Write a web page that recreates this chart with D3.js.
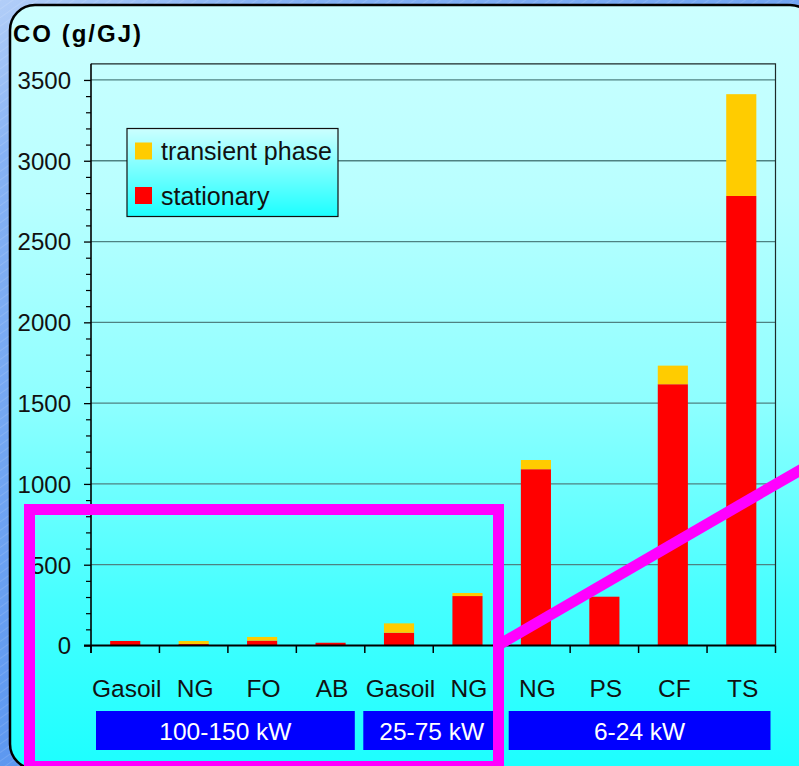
<!DOCTYPE html>
<html>
<head>
<meta charset="utf-8">
<script src="https://cdn.jsdelivr.net/npm/d3@7/dist/d3.min.js"></script>
<style>
  html, body { margin: 0; padding: 0; background: #fff; }
  svg { display: block; }
  text { font-family: "Liberation Sans", Arial, sans-serif; }
</style>
</head>
<body>
<svg id="chart" width="799" height="766"></svg>
<script>
// CO emissions per fuel, split into stationary and transient phases
const categories = ["Gasoil", "NG", "FO", "AB", "Gasoil", "NG", "NG", "PS", "CF", "TS"];
const stationary = [28, 9, 30, 17, 79, 306, 1091, 302, 1617, 2782];
const transient  = [0, 19, 23, 0, 58, 19, 57, 0, 115, 630];
const groupLabels = ["100-150 kW", "25-75 kW", "6-24 kW"];
const groupStart  = [0, 4, 6];
const groupEnd    = [3, 5, 9];
const yTicks      = [0, 500, 1000, 1500, 2000, 2500, 3000, 3500];
const seriesNames = ["transient phase", "stationary"];
const seriesColors = ["#FFCC00", "#FF0000"];

const svg = d3.select("#chart");
const W = 799, H = 766;
const plot = { left: 91, right: 775.5, top: 63.8, bottom: 645.5 };

const defs = svg.append("defs");

// slide background: blue gradient with fine diagonal hatching
const bgGrad = defs.append("linearGradient").attr("id", "bgGrad")
  .attr("x1", "0").attr("y1", "0").attr("x2", "0.6").attr("y2", "1");
bgGrad.append("stop").attr("offset", "0").attr("stop-color", "#B2CEF8");
bgGrad.append("stop").attr("offset", "0.15").attr("stop-color", "#86B2F4");
bgGrad.append("stop").attr("offset", "1").attr("stop-color", "#4A8CEE");

const hatch = defs.append("pattern").attr("id", "hatch")
  .attr("width", 7).attr("height", 7).attr("patternUnits", "userSpaceOnUse")
  .attr("patternTransform", "rotate(-35)");
hatch.append("line").attr("x1", 0).attr("y1", 0).attr("x2", 7).attr("y2", 0)
  .attr("stroke", "#ffffff").attr("stroke-opacity", 0.25).attr("stroke-width", 1);

// panel fill: pale cyan at the top to saturated cyan at the bottom
const panelGrad = defs.append("linearGradient").attr("id", "panelGrad")
  .attr("gradientUnits", "userSpaceOnUse")
  .attr("x1", 0).attr("y1", 5).attr("x2", 0).attr("y2", 768);
[[0, "#CCFFFF"], [0.25, "#B9FFFF"], [0.52, "#8EFFFF"], [0.78, "#46FFFF"], [1, "#1CFFFF"]]
  .forEach(([o, c]) => panelGrad.append("stop").attr("offset", o).attr("stop-color", c));

const legendGrad = defs.append("linearGradient").attr("id", "legendGrad")
  .attr("x1", 0).attr("y1", 0).attr("x2", 0).attr("y2", 1);
legendGrad.append("stop").attr("offset", 0).attr("stop-color", "#CCFFFF");
legendGrad.append("stop").attr("offset", 1).attr("stop-color", "#1CFFFF");

svg.append("rect").attr("width", W).attr("height", H).attr("fill", "url(#bgGrad)");
svg.append("rect").attr("width", W).attr("height", H).attr("fill", "url(#hatch)");

svg.append("rect")
  .attr("x", 10).attr("y", 5).attr("width", 805).attr("height", 764)
  .attr("rx", 25).attr("ry", 25)
  .attr("fill", "url(#panelGrad)")
  .attr("stroke", "#000").attr("stroke-width", 2.5);

// scales
const idx = d3.range(categories.length);
const x = d3.scaleBand().domain(idx).range([plot.left, plot.right])
  .paddingInner(0.56).paddingOuter(0.28);
const xCell = d3.scaleBand().domain(idx).range([plot.left, plot.right]).padding(0);
const y = d3.scaleLinear().domain([0, 3600]).range([plot.bottom, plot.top]);

// gridlines
svg.append("g").selectAll("line").data(yTicks.filter(d => d > 0)).join("line")
  .attr("x1", plot.left).attr("x2", plot.right)
  .attr("y1", d => y(d)).attr("y2", d => y(d))
  .attr("stroke", "#4E8282").attr("stroke-width", 1.3);

// plot frame (top and right)
svg.append("path")
  .attr("d", `M${plot.left},${plot.top}H${plot.right}V${plot.bottom}`)
  .attr("fill", "none").attr("stroke", "#1e2a2a").attr("stroke-width", 1.2);

// stacked bars
const stackData = idx.map(i => ({ i, stationary: stationary[i], transient: transient[i] }));
const stacked = d3.stack().keys(["stationary", "transient"])(stackData);
const colorOf = { stationary: "#FF0000", transient: "#FFCC00" };

svg.append("g").selectAll("g").data(stacked).join("g")
  .attr("fill", s => colorOf[s.key])
  .selectAll("rect").data(s => s.filter(d => d[1] > d[0])).join("rect")
  .attr("x", d => x(d.data.i))
  .attr("width", x.bandwidth())
  .attr("y", d => y(d[1]))
  .attr("height", d => y(d[0]) - y(d[1]));

// y axis: major ticks with labels, minor ticks every 100
const yAxis = svg.append("g").attr("transform", `translate(${plot.left},0)`)
  .call(d3.axisLeft(y).tickValues(yTicks).tickSize(7).tickPadding(13).tickFormat(d3.format("d")));
yAxis.select(".domain").remove();
yAxis.selectAll(".tick line").attr("stroke", "#000").attr("stroke-width", 1.3);
yAxis.selectAll(".tick text")
  .attr("font-size", 24).attr("fill", "#111").attr("dy", "0.35em");

const yMinor = svg.append("g").attr("transform", `translate(${plot.left},0)`)
  .call(d3.axisLeft(y).tickValues(d3.range(0, 3600, 100).filter(v => v % 500 !== 0))
    .tickSize(5).tickFormat(""));
yMinor.select(".domain").remove();
yMinor.selectAll(".tick line").attr("stroke", "#000").attr("stroke-width", 1.2);

svg.append("line")
  .attr("x1", plot.left).attr("x2", plot.left)
  .attr("y1", plot.top).attr("y2", plot.bottom + 7.5)
  .attr("stroke", "#000").attr("stroke-width", 1.6);

// x axis with ticks on category boundaries
const boundaries = idx.map(i => xCell(i)).concat([plot.right]);
svg.append("line")
  .attr("x1", plot.left - 7).attr("x2", plot.right)
  .attr("y1", plot.bottom).attr("y2", plot.bottom)
  .attr("stroke", "#000").attr("stroke-width", 2);
svg.append("g").selectAll("line").data(boundaries).join("line")
  .attr("x1", d => d).attr("x2", d => d)
  .attr("y1", plot.bottom).attr("y2", plot.bottom + 7.5)
  .attr("stroke", "#000").attr("stroke-width", 1.5);

svg.append("g").selectAll("text").data(idx).join("text")
  .attr("x", i => xCell(i) + xCell.bandwidth() / 2 + 1.5)
  .attr("y", 697)
  .attr("text-anchor", "middle")
  .attr("font-size", 24.5).attr("fill", "#111")
  .text(i => categories[i]);

// power class boxes
const boxInset = [[5, -10], [-1.5, -1.5], [7, -5]];
const groups = svg.append("g");
groupLabels.forEach((label, g) => {
  const x0 = xCell(groupStart[g]) + boxInset[g][0];
  const x1 = xCell(groupEnd[g]) + xCell.bandwidth() + boxInset[g][1];
  groups.append("rect")
    .attr("x", x0).attr("y", 711).attr("width", x1 - x0).attr("height", 39)
    .attr("fill", "#0000FF");
  groups.append("text")
    .attr("x", (x0 + x1) / 2).attr("y", 739.5)
    .attr("text-anchor", "middle").attr("font-size", 24.5).attr("fill", "#fff")
    .text(label);
});

// y axis title
svg.append("text")
  .attr("x", 13).attr("y", 41.5)
  .attr("font-size", 24).attr("font-weight", "bold").attr("letter-spacing", 2)
  .attr("fill", "#000")
  .text("CO (g/GJ)");

// legend
const legend = svg.append("g").attr("transform", "translate(127,128.5)");
legend.append("rect").attr("width", 211).attr("height", 88)
  .attr("fill", "url(#legendGrad)").attr("stroke", "#111").attr("stroke-width", 1.2);
seriesNames.forEach((name, k) => {
  legend.append("rect")
    .attr("x", 8).attr("y", 14 + k * 44.5).attr("width", 17).attr("height", 17)
    .attr("fill", seriesColors[k]);
  legend.append("text")
    .attr("x", 34).attr("y", 31.5 + k * 44.5)
    .attr("font-size", 25).attr("fill", "#111")
    .text(name);
});

// magenta highlight frame and diagonal stroke
svg.append("rect")
  .attr("x", 29.5).attr("y", 509.5).attr("width", 469).attr("height", 257)
  .attr("fill", "none").attr("stroke", "#FF00FF").attr("stroke-width", 11);
svg.append("line")
  .attr("x1", 498.5).attr("y1", 645).attr("x2", 815).attr("y2", 461.5)
  .attr("stroke", "#FF00FF").attr("stroke-width", 11);
</script>
</body>
</html>
